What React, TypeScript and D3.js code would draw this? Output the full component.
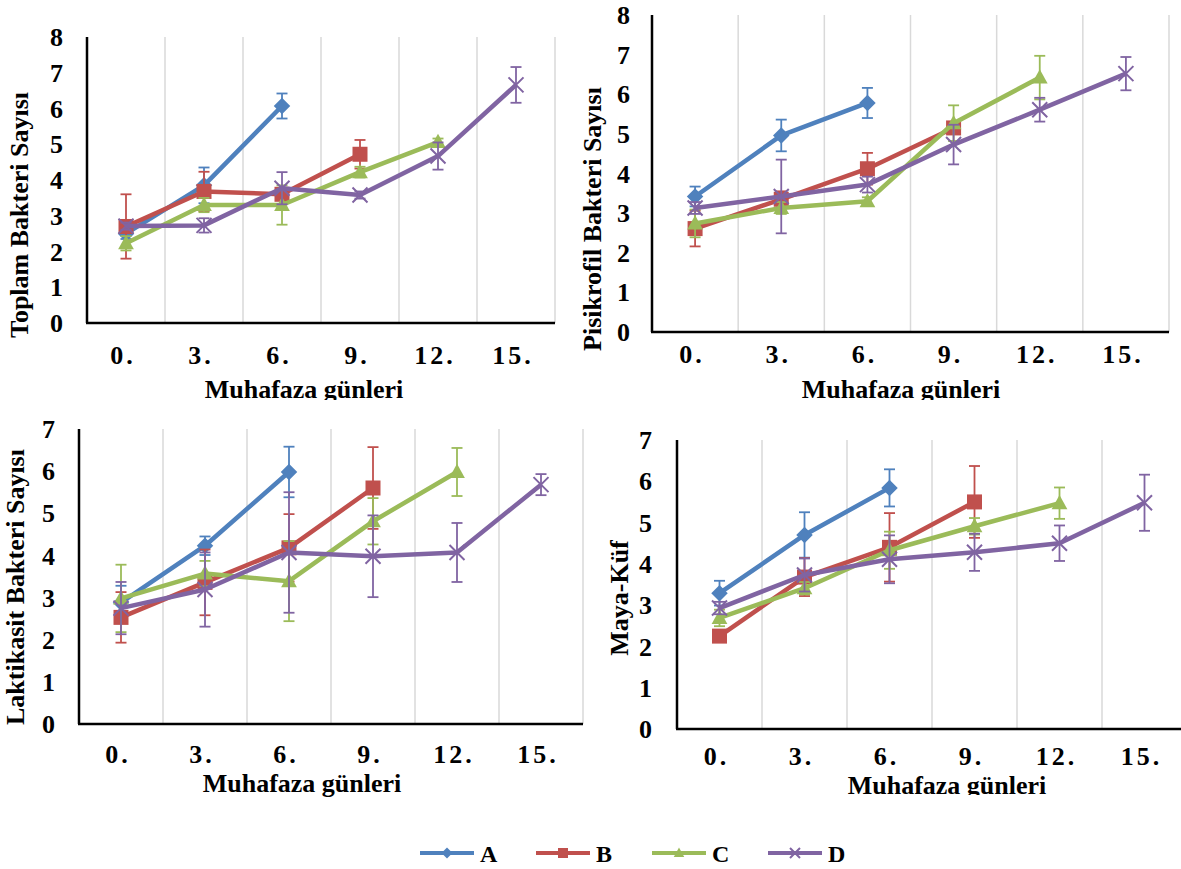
import React from "react";
import * as d3 from "d3";

// categories and series
const days = ["0.", "3.", "6.", "9.", "12.", "15."];
const groups = ["A", "B", "C", "D"];
const colors = ["#4F81BD", "#C0504D", "#9BBB59", "#8064A2"];

// Toplam Bakteri Sayısı (A, B, C, D)
const toplamMean = [
  [2.5, 3.85, 6.07],
  [2.7, 3.68, 3.6, 4.72],
  [2.23, 3.3, 3.3, 4.22, 5.06],
  [2.71, 2.73, 3.77, 3.58, 4.67, 6.66],
];
const toplamErr = [
  [0.15, 0.5, 0.35],
  [0.9, 0.55, 0.15, 0.4],
  [0.2, 0.2, 0.55, 0.15, 0.1],
  [0.1, 0.2, 0.45, 0.1, 0.38, 0.5],
];

// Pisikrofil Bakteri Sayısı
const pisikMean = [
  [3.42, 4.96, 5.78],
  [2.61, 3.35, 4.12, 5.15],
  [2.74, 3.13, 3.3, 5.27, 6.42],
  [3.13, 3.42, 3.72, 4.73, 5.61, 6.52],
];
const pisikErr = [
  [0.25, 0.4, 0.38],
  [0.45, 0.2, 0.4, 0.15],
  [0.35, 0.15, 0.1, 0.45, 0.55],
  [0.15, 0.93, 0.2, 0.5, 0.3, 0.42],
];

// Laktikasit Bakteri Sayısı
const laktikMean = [
  [2.88, 4.23, 5.98],
  [2.53, 3.36, 4.18, 5.6],
  [2.98, 3.57, 3.39, 4.81, 5.98],
  [2.75, 3.19, 4.07, 3.98, 4.07, 5.68],
];
const laktikErr = [
  [0.4, 0.22, 0.6],
  [0.6, 0.78, 0.8, 0.97],
  [0.8, 0.3, 0.95, 0.55, 0.57],
  [0.62, 0.88, 1.43, 0.97, 0.7, 0.25],
];

// Maya-Küf
const mayaMean = [
  [3.29, 4.7, 5.84],
  [2.25, 3.68, 4.4, 5.5],
  [2.69, 3.41, 4.33, 4.91, 5.47],
  [2.93, 3.73, 4.11, 4.28, 4.5, 5.48],
];
const mayaErr = [
  [0.3, 0.55, 0.45],
  [0.1, 0.46, 0.83, 0.87],
  [0.2, 0.15, 0.45, 0.2, 0.38],
  [0.15, 0.4, 0.58, 0.45, 0.43, 0.68],
];

const FONT = "'Liberation Serif', 'Times New Roman', serif";

const panels = [
  {
    title: "Toplam Bakteri Sayısı", yMax: 8, means: toplamMean, errs: toplamErr,
    x0: 87, x1: 555, top: 37, bottom: 323, yTitle: [22, 215], xTitle: [304, 398], tickY: 364, gap: 24, clip: 400,
  },
  {
    title: "Pisikrofil Bakteri Sayısı", yMax: 8, means: pisikMean, errs: pisikErr,
    x0: 652, x1: 1169, top: 15, bottom: 332, yTitle: [595, 219], xTitle: [901, 398], tickY: 363, gap: 22, clip: 400,
  },
  {
    title: "Laktikasit Bakteri Sayısı", yMax: 7, means: laktikMean, errs: laktikErr,
    x0: 79, x1: 583, top: 429, bottom: 724, yTitle: [18, 587], xTitle: [302, 792], tickY: 763, gap: 24, clip: null,
  },
  {
    title: "Maya-Küf", yMax: 7, means: mayaMean, errs: mayaErr,
    x0: 677, x1: 1187, top: 440, bottom: 729, yTitle: [622, 598], xTitle: [947, 794], tickY: 765, gap: 25, clip: 795,
  },
];

function Marker({ kind, x, y, s, color }: { kind: number; x: number; y: number; s: number; color: string }) {
  const h = s / 2;
  if (kind === 0)
    return <polygon points={`${x},${y - h * 1.1} ${x + h * 1.1},${y} ${x},${y + h * 1.1} ${x - h * 1.1},${y}`} fill={color} />;
  if (kind === 1) return <rect x={x - h} y={y - h} width={s} height={s} fill={color} />;
  if (kind === 2)
    return <polygon points={`${x},${y - h * 1.1} ${x + h * 1.05},${y + h * 0.8} ${x - h * 1.05},${y + h * 0.8}`} fill={color} />;
  return (
    <path d={`M${x - h},${y - h}L${x + h},${y + h}M${x - h},${y + h}L${x + h},${y - h}`} stroke={color} strokeWidth={2} fill="none" />
  );
}

function Panel({ p, idx }: { p: any; idx: number }) {
  const x = d3.scaleBand().domain(days).range([p.x0, p.x1]);
  const y = d3.scaleLinear().domain([0, p.yMax]).range([p.bottom, p.top]);
  const cx = (d: string) => (x(d) as number) + x.bandwidth() / 2;
  const line = d3
    .line<number>()
    .x((_, i) => cx(days[i]))
    .y((v) => y(v));
  const ticks = d3.range(0, p.yMax + 1);
  const clipId = `clip${idx}`;
  return (
    <g clipPath={p.clip ? `url(#${clipId})` : undefined}>
      {p.clip && (
        <defs>
          <clipPath id={clipId}>
            <rect x={0} y={0} width={1181} height={p.clip} />
          </clipPath>
        </defs>
      )}
      {days.map((d) => (
        <line key={d} x1={(x(d) as number) + x.bandwidth()} x2={(x(d) as number) + x.bandwidth()} y1={p.top} y2={p.bottom} stroke="#D9D9D9" strokeWidth={1.5} />
      ))}
      <line x1={p.x0} x2={p.x0} y1={p.top} y2={p.bottom} stroke="#000" strokeWidth={2.5} />
      <line x1={p.x0 - 1} x2={p.x1} y1={p.bottom} y2={p.bottom} stroke="#000" strokeWidth={2.5} />
      {ticks.map((t) => (
        <text key={t} x={p.x0 - p.gap} y={y(t)} dy="0.35em" textAnchor="end" fontFamily={FONT} fontWeight="bold" fontSize={26}>
          {t}
        </text>
      ))}
      {days.map((d) => (
        <text key={d} x={cx(d) - 3} y={p.tickY} textAnchor="middle" fontFamily={FONT} fontWeight="bold" fontSize={26} letterSpacing={3}>
          {d}
        </text>
      ))}
      <text
        transform={`translate(${p.yTitle[0] + 6},${p.yTitle[1]}) rotate(-90)`}
        textAnchor="middle"
        fontFamily={FONT}
        fontWeight="bold"
        fontSize={26}
      >
        {p.title}
      </text>
      <text x={p.xTitle[0]} y={p.xTitle[1]} textAnchor="middle" fontFamily={FONT} fontWeight="bold" fontSize={26}>
        Muhafaza günleri
      </text>
      {groups.map((g, gi) => {
        const vals: number[] = p.means[gi];
        const errs: number[] = p.errs[gi];
        const color = colors[gi];
        return (
          <g key={g}>
            <path d={line(vals) || ""} fill="none" stroke={color} strokeWidth={4.5} strokeLinejoin="round" />
            {vals.map((v, i) => {
              const px = cx(days[i]);
              const hi = y(v + errs[i]);
              const lo = y(v - errs[i]);
              return (
                <g key={i} stroke={color} strokeWidth={1.8}>
                  <line x1={px} x2={px} y1={hi} y2={lo} />
                  <line x1={px - 5.5} x2={px + 5.5} y1={hi} y2={hi} />
                  <line x1={px - 5.5} x2={px + 5.5} y1={lo} y2={lo} />
                </g>
              );
            })}
            {vals.map((v, i) => (
              <Marker key={i} kind={gi} x={cx(days[i])} y={y(v)} s={15} color={color} />
            ))}
          </g>
        );
      })}
    </g>
  );
}

export default function App() {
  const legendX = d3.scaleBand().domain(groups).range([420, 884]);
  return (
    <svg width={1181} height={869} style={{ position: "absolute", left: 0, top: 0, background: "#fff" }}>
      {panels.map((p, i) => (
        <Panel key={i} p={p} idx={i} />
      ))}
      {groups.map((g, gi) => {
        const lx = legendX(g) as number;
        return (
          <g key={g}>
            <line x1={lx} x2={lx + 54} y1={853} y2={853} stroke={colors[gi]} strokeWidth={4} />
            <Marker kind={gi} x={lx + 27} y={853} s={10} color={colors[gi]} />
            <text x={lx + 60} y={862} fontFamily={FONT} fontWeight="bold" fontSize={24}>
              {g}
            </text>
          </g>
        );
      })}
    </svg>
  );
}
